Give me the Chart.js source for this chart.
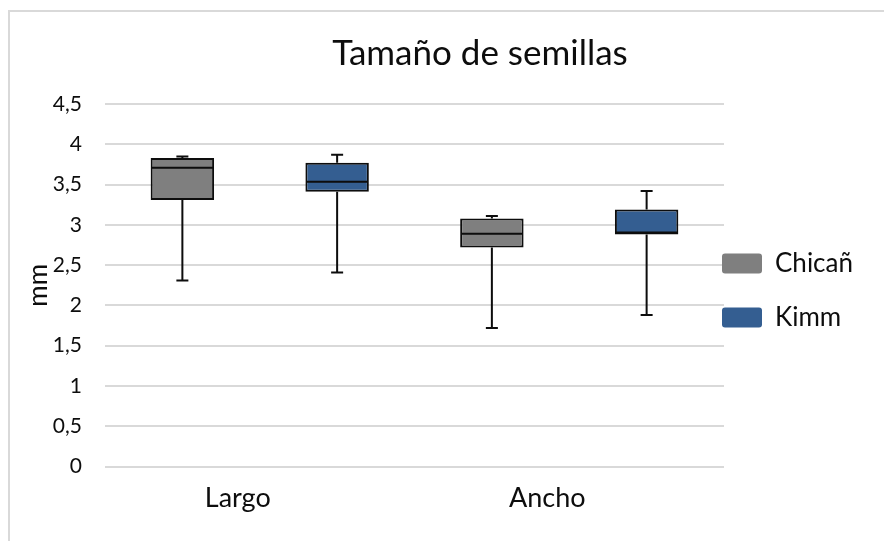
<!DOCTYPE html>
<html>
<head>
<meta charset="utf-8">
<script src="https://cdn.jsdelivr.net/npm/chart.js@4.4.0/dist/chart.umd.min.js"></script>
<style>
  html, body { margin: 0; padding: 0; background: #fff; }
</style>
</head>
<body>
<canvas id="chart" width="884" height="541"></canvas>
<script>
const categories = ["Largo", "Ancho"];
const seriesNames = ["Chicañ", "Kimm"];
const seriesColors = ["#7f7f7f", "#345e91"];

// box plot stats per category
const chicanMin = [2.31, 1.72];
const chicanQ1 = [3.31, 2.72];
const chicanMedian = [3.71, 2.89];
const chicanQ3 = [3.83, 3.08];
const chicanMax = [3.85, 3.11];

const kimmMin = [2.41, 1.88];
const kimmQ1 = [3.41, 2.88];
const kimmMedian = [3.535, 2.905];
const kimmQ3 = [3.77, 3.19];
const kimmMax = [3.87, 3.42];

const yTicks = [0, 0.5, 1, 1.5, 2, 2.5, 3, 3.5, 4, 4.5];

const FONT = "Lato";
const INK = "#0d0d0d";

function makeSeries(i, min, q1, med, q3, max) {
  return {
    label: seriesNames[i],
    data: q1.map((v, j) => [v, q3[j]]),
    stats: { min, q1, med, q3, max },
    backgroundColor: seriesColors[i],
    borderColor: INK,
    borderWidth: 2,
    borderSkipped: false,
    barPercentage: 0.41,
    categoryPercentage: 1.0
  };
}

// whiskers, caps and median lines drawn from the y scale
const whiskerPlugin = {
  id: "whiskers",
  afterDatasetsDraw(chart) {
    const ctx = chart.ctx;
    const ys = chart.scales.y;
    chart.data.datasets.forEach((ds, i) => {
      const meta = chart.getDatasetMeta(i);
      const s = ds.stats;
      meta.data.forEach((bar, j) => {
        const x = bar.x;
        const half = bar.width / 2;
        const cap = 6;
        const yMin = ys.getPixelForValue(s.min[j]);
        const yQ1 = ys.getPixelForValue(s.q1[j]);
        const yMed = ys.getPixelForValue(s.med[j]);
        const yQ3 = ys.getPixelForValue(s.q3[j]);
        const yMax = ys.getPixelForValue(s.max[j]);
        ctx.save();
        ctx.strokeStyle = INK;
        ctx.lineWidth = 2;
        ctx.beginPath();
        ctx.moveTo(x, yQ1); ctx.lineTo(x, yMin);
        ctx.moveTo(x - cap, yMin); ctx.lineTo(x + cap, yMin);
        ctx.moveTo(x, yQ3); ctx.lineTo(x, yMax);
        ctx.moveTo(x - cap, yMax); ctx.lineTo(x + cap, yMax);
        ctx.moveTo(x - half + 1, yMed); ctx.lineTo(x + half - 1, yMed);
        ctx.stroke();
        ctx.restore();
      });
    });
  }
};

// outer frame like the spreadsheet chart area, plus nudges for title and legend
const framePlugin = {
  id: "frame",
  beforeDraw(chart) {
    const ctx = chart.ctx;
    ctx.save();
    ctx.fillStyle = "#fff";
    ctx.fillRect(0, 0, chart.width, chart.height);
    ctx.strokeStyle = "#d9d9d9";
    ctx.lineWidth = 2;
    ctx.beginPath();
    ctx.moveTo(9, chart.height + 2);
    ctx.lineTo(9, 11);
    ctx.lineTo(chart.width + 2, 11);
    ctx.stroke();
    ctx.restore();
  },
  afterLayout(chart) {
    const lg = chart.legend;
    lg.left -= 30; lg.right -= 30;
    lg.top += 25; lg.bottom += 25;
    const t = chart.titleBlock;
    t.left += 33; t.right += 33;
  }
};

new Chart(document.getElementById("chart"), {
  type: "bar",
  data: {
    labels: categories,
    datasets: [
      makeSeries(0, chicanMin, chicanQ1, chicanMedian, chicanQ3, chicanMax),
      makeSeries(1, kimmMin, kimmQ1, kimmMedian, kimmQ3, kimmMax)
    ]
  },
  options: {
    responsive: false,
    animation: false,
    layout: { padding: { top: 2, left: 10, right: 0, bottom: 12 } },
    scales: {
      x: {
        grid: { display: false, drawTicks: false },
        border: { display: false },
        ticks: {
          color: INK,
          font: { family: FONT, size: 27 },
          padding: 15,
          labelOffset: -22
        }
      },
      y: {
        min: 0,
        max: 4.5,
        afterBuildTicks(axis) {
          axis.ticks = yTicks.map(v => ({ value: v }));
        },
        afterFit(axis) {
          axis.width = 95;
        },
        grid: { color: "#d9d9d9", lineWidth: 2, drawTicks: false },
        border: { display: false },
        ticks: {
          color: INK,
          font: { family: FONT, size: 21 },
          padding: 23,
          callback: v => String(v).replace(".", ",")
        },
        title: {
          display: true,
          text: "mm",
          color: INK,
          font: { family: FONT, size: 26 },
          padding: { top: 13, bottom: 0 }
        }
      }
    },
    plugins: {
      title: {
        display: true,
        text: "Tamaño de semillas",
        color: INK,
        font: { family: FONT, size: 35, weight: "normal" },
        padding: { top: 31, bottom: 29 }
      },
      legend: {
        position: "right",
        maxWidth: 160,
        labels: {
          color: INK,
          font: { family: FONT, size: 26 },
          boxWidth: 40,
          boxHeight: 20,
          padding: 28,
          useBorderRadius: true,
          borderRadius: 3,
          generateLabels(chart) {
            const items = Chart.defaults.plugins.legend.labels.generateLabels(chart);
            items.forEach(it => { it.lineWidth = 0; it.strokeStyle = "rgba(0,0,0,0)"; });
            return items;
          }
        }
      },
      tooltip: { enabled: false }
    }
  },
  plugins: [framePlugin, whiskerPlugin]
});
</script>
</body>
</html>
